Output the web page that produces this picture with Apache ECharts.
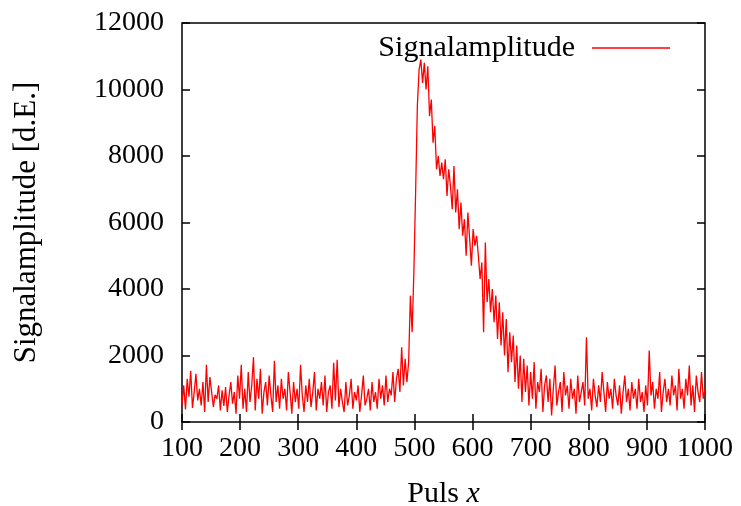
<!DOCTYPE html>
<html>
<head>
<meta charset="utf-8">
<script src="https://cdn.jsdelivr.net/npm/echarts@6/dist/echarts.min.js"></script>
<style>
html,body{margin:0;padding:0;background:#fff;}
#chart{width:741px;height:506px;}
</style>
</head>
<body>
<div id="chart"></div>
<script>
// Pulse positions (x)
var pulsX = [
100,103,106,109,112,115,118,121,124,127,
130,133,136,139,142,145,148,151,154,157,
160,163,166,169,172,175,178,181,184,187,
190,193,196,199,202,205,208,211,214,217,
220,223,226,229,232,235,238,241,244,247,
250,253,256,259,262,265,268,271,274,277,
280,283,286,289,292,295,298,301,304,307,
310,313,316,319,322,325,328,331,334,337,
340,343,346,349,352,355,358,361,364,367,
370,373,376,379,382,385,388,391,394,397,
400,403,406,409,412,415,418,421,424,427,
430,433,436,439,442,445,448,451,454,457,
460,463,466,469,472,475,478,481,484,487,
490,493,496,499,502,505,508,511,514,517,
520,523,526,529,532,535,538,541,544,547,
550,553,556,559,562,565,568,571,574,577,
580,583,586,589,592,595,598,601,604,607,
610,613,616,619,622,625,628,631,634,637,
640,643,646,649,652,655,658,661,664,667,
670,673,676,679,682,685,688,691,694,697,
700,703,706,709,712,715,718,721,724,727,
730,733,736,739,742,745,748,751,754,757,
760,763,766,769,772,775,778,781,784,787,
790,793,796,799,802,805,808,811,814,817,
820,823,826,829,832,835,838,841,844,847,
850,853,856,859,862,865,868,871,874,877,
880,883,886,889,892,895,898,901,904,907,
910,913,916,919,922,925,928,931,934,937,
940,943,946,949,952,955,958,961,964,967,
970,973,976,979,982,985,988,991,994,997,
1000
];
// Signal amplitude (d.E.)
var signalAmp = [
520,1100,380,1300,760,1540,420,900,1450,650,
1000,500,1200,300,1720,600,1350,900,450,820,
700,1100,350,950,480,1050,300,800,1200,550,
900,250,1400,700,1720,400,1000,300,1500,600,
1100,1950,350,1300,700,1600,250,900,1200,500,
1400,800,300,1840,600,1100,400,1300,700,1000,
350,1500,900,250,1200,600,1000,400,1720,800,
300,1100,600,1300,450,900,1500,350,1000,700,
1200,500,1400,300,900,1100,400,1780,650,1870,
450,1000,600,300,1200,500,800,1300,400,900,
650,1100,300,800,1400,500,700,1000,350,1200,
600,900,400,1300,700,1100,500,1400,600,1000,
800,1500,600,1300,1600,900,2250,1100,1900,1200,
1800,3800,2700,4500,6900,9500,10600,10900,10200,10800,
10000,10700,9200,9700,8400,8900,7600,8000,7400,7800,
7300,7900,6800,7600,7100,6400,7700,6300,7000,5800,
6600,5600,6100,5000,6300,5500,4700,5800,5300,5600,
5000,4300,4800,2700,5400,3600,4300,3300,4000,3000,
3800,2500,3600,2300,3300,2000,3100,1500,2700,1800,
2600,1200,2300,1000,2000,600,1900,900,1700,500,
1500,700,1800,400,1200,900,1600,300,1100,1400,
600,1300,200,1000,1700,500,900,1200,300,1500,
800,1100,400,1300,700,1000,250,1400,600,900,
1200,500,2550,700,1000,350,1300,800,450,1100,
600,1500,900,300,1200,700,1000,400,1300,800,
500,1100,250,900,1400,600,1000,350,1200,700,
1000,400,1300,600,900,300,1100,500,2150,800,
1200,400,1000,700,1500,300,900,1300,600,1000,
500,1400,800,1100,350,1600,700,1000,400,1300,
800,1700,500,1100,300,1400,900,600,1500,700,
1000
];
var seriesName = 'Signalamplitude';
var xTicks = [100,200,300,400,500,600,700,800,900,1000];
var yTicks = [0,2000,4000,6000,8000,10000,12000];

var FONT = 'Liberation Serif';
var pts = pulsX.map(function(x,i){return [x, signalAmp[i]];});
var plain = function(v){return String(v);};

var chart = echarts.init(document.getElementById('chart'), null, {renderer:'canvas'});
var tickStyle = {show:true, inside:true, length:8, lineStyle:{color:'#000', width:1.5}};
var option = {
  animation:false,
  backgroundColor:'#fff',
  grid:{left:182, right:36, top:23, bottom:84, containLabel:false, outerBoundsMode:'none',
        show:true, borderColor:'#000', borderWidth:1.5, backgroundColor:'transparent'},
  legend:{
    data:[seriesName],
    right:66, top:28,
    align:'right',
    icon:'rect',
    itemWidth:78, itemHeight:1.5,
    textStyle:{fontFamily:FONT, fontSize:30, color:'#000', padding:[0,12,0,0]},
    itemStyle:{color:'#ff0000'}
  },
  xAxis:[{
    type:'value', min:xTicks[0], max:xTicks[xTicks.length-1], interval:100,
    axisLine:{show:false}, axisTick:tickStyle, splitLine:{show:false},
    axisLabel:{fontFamily:FONT, fontSize:28, color:'#000', margin:13, formatter:plain},
    name:'{a|Puls }{b|x}', nameLocation:'middle', nameGap:57,
    nameTextStyle:{fontFamily:FONT, fontSize:30, color:'#000',
      rich:{a:{fontFamily:FONT, fontSize:30, color:'#000'}, b:{fontFamily:FONT, fontSize:30, fontStyle:'italic', color:'#000'}}}
  },{
    type:'value', position:'top', min:xTicks[0], max:xTicks[xTicks.length-1], interval:100,
    axisLine:{show:false}, axisTick:tickStyle, axisLabel:{show:false}, splitLine:{show:false}
  }],
  yAxis:[{
    type:'value', min:yTicks[0], max:yTicks[yTicks.length-1], interval:2000,
    axisLine:{show:false}, axisTick:tickStyle, splitLine:{show:false},
    axisLabel:{fontFamily:FONT, fontSize:28, color:'#000', margin:18, formatter:plain},
    name:'Signalamplitude [d.E.]', nameLocation:'middle', nameGap:140,
    nameTextStyle:{fontFamily:FONT, fontSize:31, color:'#000'}
  },{
    type:'value', position:'right', min:yTicks[0], max:yTicks[yTicks.length-1], interval:2000,
    axisLine:{show:false}, axisTick:tickStyle, axisLabel:{show:false}, splitLine:{show:false}
  }],
  series:[{
    name:seriesName, type:'line', data:pts, showSymbol:false, symbol:'none',
    lineStyle:{color:'#ff0000', width:1.3}, itemStyle:{color:'#ff0000'}, z:1
  }]
};
chart.setOption(option);
</script>
</body>
</html>
